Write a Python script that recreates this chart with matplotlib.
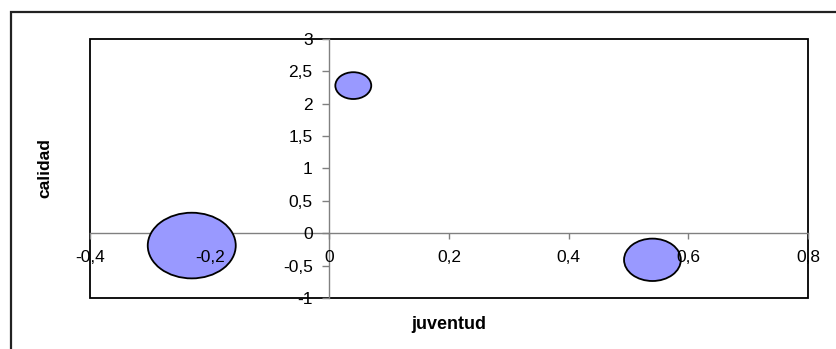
import matplotlib
matplotlib.use('Agg')
import matplotlib.pyplot as plt
import numpy as np
from matplotlib.markers import MarkerStyle
from matplotlib.path import Path
from matplotlib.patches import Rectangle
from matplotlib.ticker import FuncFormatter
from matplotlib.transforms import Affine2D

plt.rcParams['font.family'] = ['Liberation Sans', 'DejaVu Sans']

# bubble data
juventud = [0.04, -0.23, 0.54]
calidad = [2.28, -0.19, -0.41]
tamano = [1.0, 6.0, 2.5]

x_ticks = [-0.4, -0.2, 0.0, 0.2, 0.4, 0.6, 0.8]
y_ticks = [-1, -0.5, 0, 0.5, 1, 1.5, 2, 2.5, 3]


def coma(v, pos=None):
    txt = '{:g}'.format(round(v, 2))
    if txt == '-0':
        txt = '0'
    return txt.replace('.', ',')


fig = plt.figure(figsize=(8.36, 3.49), dpi=100)
ax = fig.add_axes([0.1077, 0.1461, 0.8588, 0.7422])

# outer chart frame, open at right and bottom edges
fig.patches.append(Rectangle((0.013, -0.2), 1.2, 0.966 + 0.2, transform=fig.transFigure,
                             fill=False, edgecolor='#222222', linewidth=1.6))

# slightly wide ellipse used as bubble marker
elipse = Path.unit_circle().transformed(Affine2D().scale(1.34, 1.0))
marker = MarkerStyle(elipse)

max_w = 0.72 * 88
sizes = [t / max(tamano) * max_w ** 2 for t in tamano]
ax.scatter(juventud, calidad, s=sizes, marker=marker, facecolor='#9999ff',
           edgecolor='black', linewidth=1.3, zorder=3)

ax.set_xlim(-0.4, 0.8)
ax.set_ylim(-1, 3)
ax.set_xticks(x_ticks)
ax.set_yticks(y_ticks)
ax.xaxis.set_major_formatter(FuncFormatter(coma))
ax.yaxis.set_major_formatter(FuncFormatter(coma))

# axes cross at the origin
for lado in ['left', 'bottom']:
    ax.spines[lado].set_position(('data', 0))
    ax.spines[lado].set_color('#808080')
    ax.spines[lado].set_linewidth(1.0)
    ax.spines[lado].set_zorder(2)
for lado in ['top', 'right']:
    ax.spines[lado].set_visible(False)

# plot area border
ax.add_patch(Rectangle((0, 0), 1, 1, transform=ax.transAxes, fill=False,
                       edgecolor='black', linewidth=1.3, clip_on=False, zorder=2))

ax.tick_params(axis='x', direction='out', length=4, width=1, color='#808080', pad=8, labelsize=12.5)
ax.tick_params(axis='y', direction='out', length=5, width=1, color='#808080', pad=7, labelsize=12.5)
ax.xaxis.set_zorder(4)
ax.yaxis.set_zorder(4)
# the tick under the large bubble stays hidden
ax.xaxis.get_major_ticks()[1].tick1line.set_visible(False)

fig.text(0.537, 0.069, 'juventud', ha='center', va='center', fontsize=13, fontweight='bold')
fig.text(0.054, 0.519, 'calidad', ha='center', va='center', rotation=90, fontsize=12.5, fontweight='bold')

fig.savefig('out.png', dpi=100)
